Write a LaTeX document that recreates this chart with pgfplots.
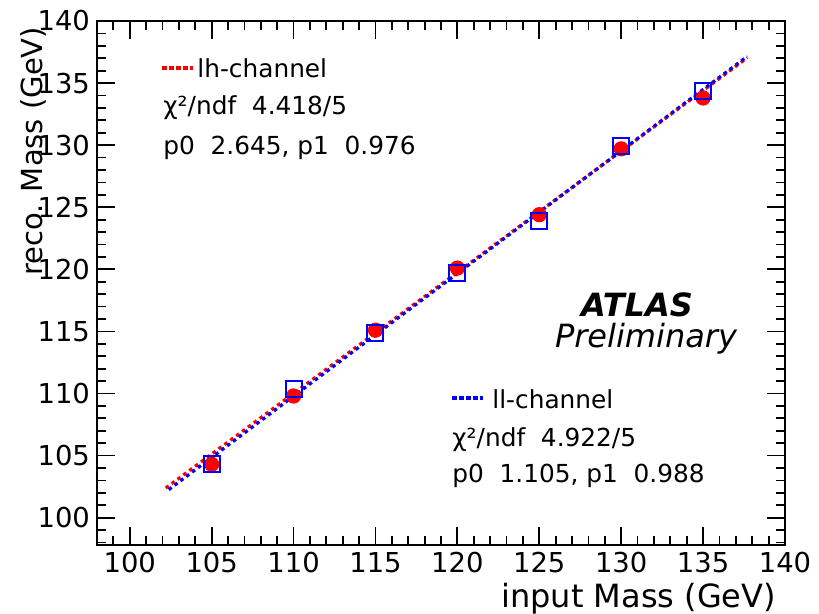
\documentclass[border=0pt]{standalone}
\usepackage{fontspec}
\setmainfont{DejaVu Sans}
\usepackage{pgfplots}
\pgfplotsset{compat=1.18}
\definecolor{lhred}{HTML}{FF0000}
\definecolor{llblue}{HTML}{0000FF}
\newcommand{\legfont}{\fontsize{12.4}{15}\selectfont}
\begin{document}
\begin{tikzpicture}
\useasboundingbox (-48.5pt,-34.5pt) rectangle (361pt,272.5pt);
\begin{axis}[
  at={(0,0)}, anchor=south west,
  scale only axis, width=344pt, height=262pt,
  xmin=98, xmax=140, ymin=97.8, ymax=140,
  xtick={100,105,...,140}, ytick={100,105,...,140},
  minor xtick={99,...,139}, minor ytick={98,...,139},
  tick align=inside, xtick pos=both, ytick pos=both,
  xticklabel pos=bottom, yticklabel pos=left,
  major tick length=9pt, minor tick length=4.5pt,
  axis line style={line width=1pt},
  every tick/.style={black, line width=0.9pt},
  /pgf/number format/assume math mode=true,
  ticklabel style={font=\fontsize{13.7}{16}\selectfont},
  xlabel={input Mass (GeV)},
  xlabel style={font=\fontsize{16}{19}\selectfont, at={(axis description cs:1,0)}, anchor=base east, yshift=-31.5pt, xshift=-1pt},
  ylabel={reco. Mass (GeV)},
  ylabel style={font=\fontsize{14.5}{17}\selectfont, at={(axis description cs:-0.0799,1.002)}, anchor=base east},
  clip=false,
]
% lh-channel
\addplot[only marks, mark=*, mark size=3.6pt, color=lhred] coordinates {
  (105,104.3) (110,109.8) (115,115.1) (120,120.1) (125,124.4) (130,129.7) (135,133.8)
};
% ll-channel
\addplot[only marks, mark=square, mark size=4pt, color=llblue, mark options={line width=1pt}] coordinates {
  (105,104.3) (110,110.4) (115,114.9) (120,119.7) (125,123.9) (130,129.9) (135,134.4)
};
% fits
\addplot[lhred, line width=1.6pt, dash pattern=on 1.8pt off 1.85pt] coordinates {
  (102.2,102.39) (137.7,137.04)
};
\addplot[llblue, line width=1.6pt, dash pattern=on 1.8pt off 1.85pt, dash phase=1.8pt] coordinates {
  (102.2,102.08) (137.7,137.15)
};
\end{axis}
% legend boxes
\draw[lhred, line width=1.8pt, dash pattern=on 2.3pt off 1.2pt] (32.5pt,238.5pt) -- (48pt,238.5pt);
\node[anchor=base west, font=\legfont, inner sep=0pt] at (50pt,233.5pt) {lh-channel};
\node[anchor=base west, font=\legfont, inner sep=0pt] at (33pt,215pt) {χ²/ndf \ 4.418/5};
\node[anchor=base west, font=\legfont, inner sep=0pt] at (33pt,195pt) {p0 \ 2.645, p1 \ 0.976};
\draw[llblue, line width=1.8pt, dash pattern=on 2.3pt off 1.2pt] (177.5pt,73.5pt) -- (193pt,73.5pt);
\node[anchor=base west, font=\legfont, inner sep=0pt] at (197.5pt,68pt) {ll-channel};
\node[anchor=base west, font=\legfont, inner sep=0pt] at (177.5pt,49pt) {χ²/ndf \ 4.922/5};
\node[anchor=base west, font=\legfont, inner sep=0pt] at (177.5pt,31pt) {p0 \ 1.105, p1 \ 0.988};
\node[anchor=base, inner sep=0pt, font=\fontsize{16}{19}\selectfont\bfseries\itshape] at (270pt,114pt) {ATLAS};
\node[anchor=base, inner sep=0pt, font=\fontsize{16}{19}\selectfont\itshape] at (274.5pt,98.5pt) {Preliminary};
\end{tikzpicture}
\end{document}
